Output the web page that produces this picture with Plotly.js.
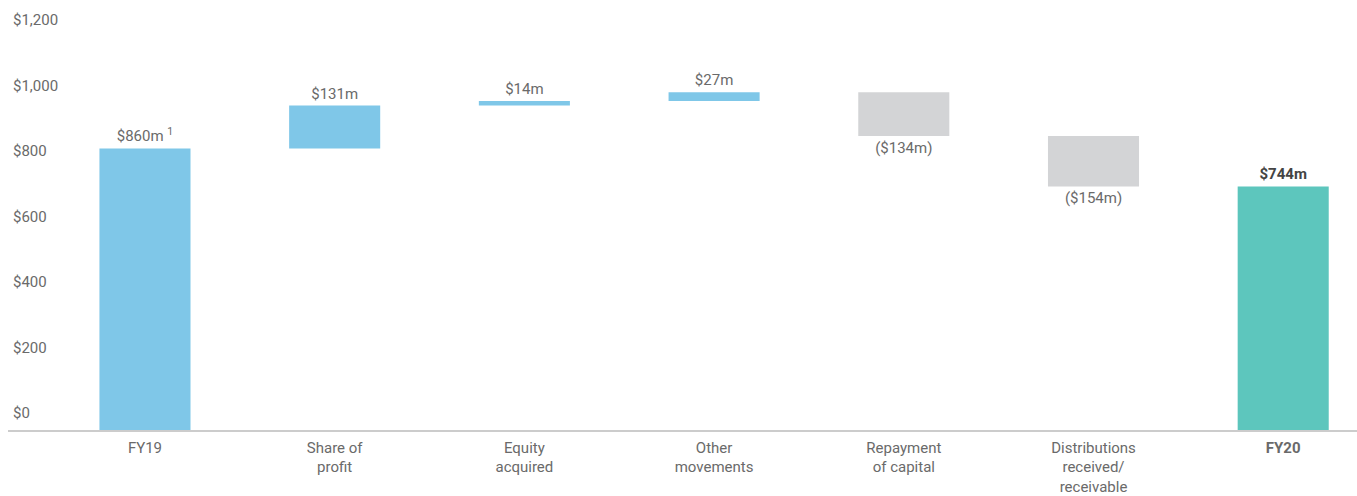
<!DOCTYPE html>
<html>
<head>
<meta charset="utf-8">
<script src="https://cdn.plot.ly/plotly-3.0.1.min.js"></script>
<style>html,body{margin:0;padding:0;background:#fff;}#chart{width:1357px;height:496px;}</style>
</head>
<body>
<div id="chart"></div>
<script>
const categories = ["FY19", "Share of<br>profit", "Equity<br>acquired", "Other<br>movements", "Repayment<br>of capital", "Distributions<br>received/<br>receivable", "<b>FY20</b>"];
const measures = ["start", "relative", "relative", "relative", "relative", "relative", "total"];
const values = [860, 131, 14, 27, -134, -154, 744];
const labels = ["$860m <sup>1</sup>", "$131m", "$14m", "$27m", "($134m)", "($154m)", "<b>$744m</b>"];
const yTickVals = [0, 200, 400, 600, 800, 1000, 1200];
const yTickText = ["$0", "$200", "$400", "$600", "$800", "$1,000", "$1,200"];

const colors = {start: "#7fc7e8", up: "#7fc7e8", down: "#d3d4d6", total: "#5dc6bd"};

let running = 0;
const bases = [], heights = [], barColors = [], textColors = [];
values.forEach((v, i) => {
  const m = measures[i];
  if (m === "start" || m === "total") {
    bases.push(0); heights.push(v); running = v;
    barColors.push(m === "start" ? colors.start : colors.total);
  } else {
    bases.push(running); heights.push(v); running += v;
    barColors.push(v >= 0 ? colors.up : colors.down);
  }
  textColors.push(m === "total" ? "#444" : "#6a6a6a");
});

const xs = categories.map((c, i) => i);

const trace = {
  type: "bar",
  x: xs,
  y: heights,
  base: bases,
  width: 0.48,
  marker: {color: barColors, line: {width: 0}},
  text: labels,
  textposition: "outside",
  textfont: {family: "Roboto, sans-serif", size: 15, color: textColors},
  cliponaxis: false,
  hoverinfo: "none"
};

const layout = {
  width: 1357, height: 496,
  margin: {l: 8, r: 0, t: 10, b: 66},
  paper_bgcolor: "#fff", plot_bgcolor: "#fff",
  showlegend: false,
  font: {family: "Roboto, sans-serif", color: "#6a6a6a", size: 15},
  xaxis: {
    range: [-0.722, 6.389],
    tickvals: xs, ticktext: categories,
    showline: true, linecolor: "#cccccc", linewidth: 1.5,
    showgrid: false, zeroline: false, ticks: "",
    ticklabelstandoff: 3,
    tickfont: {size: 15, color: "#6a6a6a"},
    fixedrange: true
  },
  yaxis: {
    range: [0, 1283],
    tickvals: yTickVals, ticktext: yTickText,
    ticklabelposition: "inside",
    ticklabelshift: -17,
    ticklabelstandoff: 2,
    showgrid: false, zeroline: false, showline: false, ticks: "",
    tickfont: {size: 15, color: "#6a6a6a"},
    fixedrange: true
  }
};

Plotly.newPlot("chart", [trace], layout, {displayModeBar: false, staticPlot: true});
</script>
</body>
</html>
